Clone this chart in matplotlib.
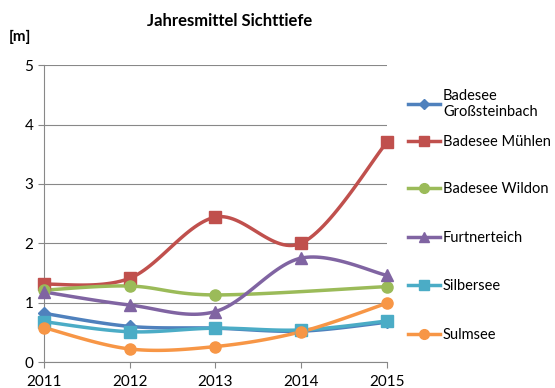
import numpy as np
import matplotlib
matplotlib.use('Agg')
import matplotlib.pyplot as plt
from matplotlib.lines import Line2D

plt.rcParams['font.family'] = ['Lato', 'DejaVu Sans']

years = [2011, 2012, 2013, 2014, 2015]
grosssteinbach = [0.82, 0.60, 0.57, 0.52, 0.67]
muehlen = [1.31, 1.41, 2.44, 2.00, 3.70]
wildon = [1.21, 1.28, 1.13, np.nan, 1.27]
furtnerteich = [1.18, 0.96, 0.85, 1.75, 1.46]
silbersee = [0.68, 0.51, 0.57, 0.54, 0.69]
sulmsee = [0.58, 0.22, 0.26, 0.51, 0.99]

names = ['Badesee\nGroßsteinbach', 'Badesee Mühlen', 'Badesee Wildon',
         'Furtnerteich', 'Silbersee', 'Sulmsee']
series = [grosssteinbach, muehlen, wildon, furtnerteich, silbersee, sulmsee]
colors = ['#4F81BD', '#C0504D', '#9BBB59', '#8064A2', '#4BACC6', '#F79646']
markers = ['D', 's', 'o', '^', 's', 'o']
msizes = [6, 8, 8, 8, 8, 8]
# legend entry centres (pixels from top)
legend_y = [104, 142, 189, 238, 286, 335]


def smooth(x, y, n=30):
    # Catmull-Rom style smoothing like Excel's "smoothed line"
    x = np.asarray(x, float)
    y = np.asarray(y, float)
    px, py = [], []
    for i in range(len(x) - 1):
        x0, y0 = (x[i - 1], y[i - 1]) if i > 0 else (x[i], y[i])
        x3, y3 = (x[i + 2], y[i + 2]) if i + 2 < len(x) else (x[i + 1], y[i + 1])
        x1, y1, x2, y2 = x[i], y[i], x[i + 1], y[i + 1]
        c1 = (x1 + (x2 - x0) / 6, y1 + (y2 - y0) / 6)
        c2 = (x2 - (x3 - x1) / 6, y2 - (y3 - y1) / 6)
        t = np.linspace(0, 1, n)
        bx = (1-t)**3*x1 + 3*(1-t)**2*t*c1[0] + 3*(1-t)*t**2*c2[0] + t**3*x2
        by = (1-t)**3*y1 + 3*(1-t)**2*t*c1[1] + 3*(1-t)*t**2*c2[1] + t**3*y2
        px.extend(bx)
        py.extend(by)
    return px, py


fig = plt.figure(figsize=(5.55, 3.88), dpi=100)
ax = fig.add_axes([0.079, 0.067, 0.618, 0.765])

for vals, c, m, ms in zip(series, colors, markers, msizes):
    v = np.array(vals, float)
    ok = ~np.isnan(v)
    xs = np.array(years)[ok]
    sx, sy = smooth(xs, v[ok])
    ax.plot(sx, sy, color=c, lw=2.5, zorder=3, clip_on=False)
    ax.plot(xs, v[ok], ls='none', marker=m, ms=ms, color=c, zorder=4, clip_on=False)

ax.set_xlim(2011, 2015)
ax.set_ylim(0, 5)
ax.set_xticks(years)
ax.set_yticks(range(6))
ax.yaxis.grid(True, color='#888888', lw=0.8)
ax.set_axisbelow(True)
for s in ['top', 'right']:
    ax.spines[s].set_visible(False)
for s in ['left', 'bottom']:
    ax.spines[s].set_color('#888888')
ax.tick_params(colors='#888888', labelcolor='black', labelsize=11, length=4)
ax.tick_params(axis='x', pad=5)

fig.text(0.413, 0.945, 'Jahresmittel Sichttiefe', ha='center', va='center',
         fontsize=12, fontweight='bold')
fig.text(0.015, 0.905, '[m]', ha='left', va='center', fontsize=11, fontweight='bold')

for name, c, m, ms, ly in zip(names, colors, markers, msizes, legend_y):
    h = Line2D([0], [0], color=c, lw=2.5, marker=m, ms=ms - 1)
    fig.legend([h], [name], loc='center left', bbox_to_anchor=(0.735, 1 - ly / 388),
               frameon=False, fontsize=10.5, handlelength=2.2, handletextpad=0.2,
               borderpad=0, borderaxespad=0)

fig.savefig('out.png', dpi=100)
